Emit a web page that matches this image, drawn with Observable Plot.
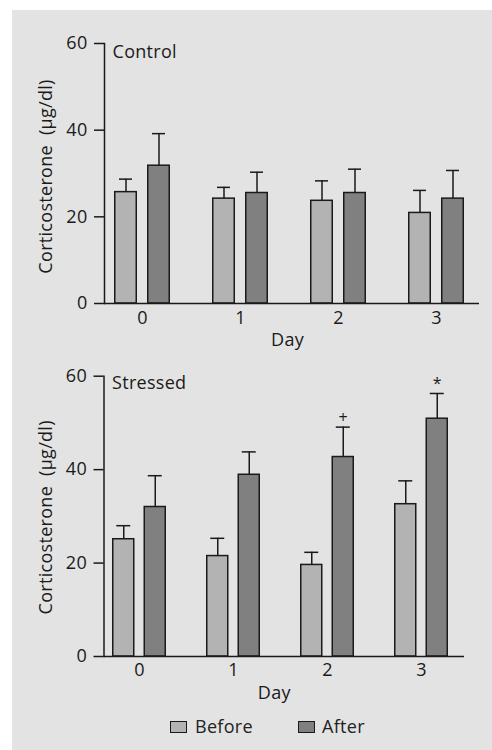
<!DOCTYPE html>
<html>
<head>
<meta charset="utf-8">
<script src="https://cdn.jsdelivr.net/npm/d3@7"></script>
<script src="https://cdn.jsdelivr.net/npm/@observablehq/plot@0.6"></script>
<style>
  body { margin: 0; background: #ffffff; }
  #page { position: relative; width: 492px; height: 750px; font-family: "Open Sans", sans-serif; color: #222; overflow: hidden; }
  #bg { position: absolute; left: 12px; top: 10px; width: 480px; height: 740px; background: #e3e3e3; }
  .panel { position: absolute; left: 0; }
  #top { top: 0px; }
  #bottom { top: 360px; }
  #legend { position: absolute; top: 716px; left: 0; width: 492px; height: 22px; font-size: 18px; letter-spacing: 0.3px; }
  .sw { position: absolute; top: 5px; width: 15px; height: 10px; border: 1.5px solid #1a1a1a; }
  .lt { position: absolute; top: -1px; line-height: 22px; }
</style>
</head>
<body>
<div id="page">
  <div id="bg"></div>
  <div id="top" class="panel"></div>
  <div id="bottom" class="panel"></div>
  <div id="legend">
    <div class="sw" style="left:170px;background:#b3b3b3"></div><div class="lt" style="left:195px">Before</div>
    <div class="sw" style="left:298px;background:#808080"></div><div class="lt" style="left:322px">After</div>
  </div>
</div>
<script>
// ---- data ----
const days = ["0", "1", "2", "3"];
const conditions = ["Before", "After"];

const controlBefore = [25.7, 24.2, 23.7, 20.9];
const controlBeforeSem = [3.0, 2.6, 4.6, 5.2];
const controlAfter = [31.8, 25.5, 25.5, 24.2];
const controlAfterSem = [7.4, 4.8, 5.5, 6.5];

const stressedBefore = [25.1, 21.5, 19.6, 32.6];
const stressedBeforeSem = [2.9, 3.8, 2.7, 5.0];
const stressedAfter = [32.0, 38.9, 42.7, 50.9];
const stressedAfterSem = [6.7, 4.9, 6.4, 5.4];

const stressedMarkers = [
  {day: "2", symbol: "+"},
  {day: "3", symbol: "*"}
];

const yTicks = [0, 20, 40, 60];
const yLabel = "Corticosterone\u00a0 (\u00b5g/dl)";
const xLabel = "Day";

// ---- helpers ----
function rows(means, sems) {
  return days.map((d, i) => ({day: d, mean: means[i], sem: sems[i], top: means[i] + sems[i]}));
}

const ink = "#1a1a1a";

function panel(cfg) {
  const {before, after, name, markers, geo} = cfg;
  const bw = geo.bw, half = bw / 2;
  const offB = -geo.off, offA = geo.off;
  const barHalf = geo.barW / 2, capHalf = geo.capW / 2;
  const bIL = half + offB - barHalf, bIR = half - offB - barHalf;
  const aIL = half + offA - barHalf, aIR = half - offA - barHalf;
  const cbIL = half + offB - capHalf, cbIR = half - offB - capHalf;
  const caIL = half + offA - capHalf, caIR = half - offA - capHalf;
  const afterByDay = new Map(after.map(d => [d.day, d]));
  const marks = [
    Plot.barY(before, {x: "day", y: "mean", fill: "#b3b3b3", stroke: ink, strokeWidth: 1.5, insetLeft: bIL, insetRight: bIR}),
    Plot.barY(after, {x: "day", y: "mean", fill: "#808080", stroke: ink, strokeWidth: 1.5, insetLeft: aIL, insetRight: aIR}),
    Plot.ruleX(before, {x: "day", y1: "mean", y2: "top", dx: offB, stroke: ink, strokeWidth: 1.5}),
    Plot.ruleX(after, {x: "day", y1: "mean", y2: "top", dx: offA, stroke: ink, strokeWidth: 1.5}),
    Plot.tickY(before, {x: "day", y: "top", insetLeft: cbIL, insetRight: cbIR, stroke: ink, strokeWidth: 1.5}),
    Plot.tickY(after, {x: "day", y: "top", insetLeft: caIL, insetRight: caIR, stroke: ink, strokeWidth: 1.5}),
    Plot.ruleY([0], {stroke: ink, strokeWidth: 1.5}),
    Plot.frame({anchor: "left", stroke: ink, strokeWidth: 1.5}),
    Plot.axisY({ticks: yTicks, tickSize: 10, tickPadding: 7, label: null, stroke: ink, strokeWidth: 1.5}),
    Plot.axisX({tickSize: 0, tickPadding: geo.xPad, label: null}),
    Plot.text([xLabel], {frameAnchor: "bottom", lineAnchor: "middle", dy: geo.dayDy, dx: geo.dayDx, fill: ink}),
    Plot.text([yLabel], {frameAnchor: "left", rotate: -90, textAnchor: "middle", lineAnchor: "middle", dx: geo.ylDx, dy: geo.ylDy, fill: ink}),
    Plot.text([name], {frameAnchor: "top-left", textAnchor: "start", lineAnchor: "top", dx: 8, dy: geo.nameDy, fill: ink})
  ];
  if (markers) {
    marks.push(Plot.text(markers, {x: "day", y: d => afterByDay.get(d.day).top, text: "symbol", dx: offA, dy: -4, fill: ink, lineAnchor: "bottom", fontSize: 16}));
  }
  return Plot.plot({
    width: 492,
    height: geo.height,
    marginTop: geo.mt,
    marginBottom: geo.mb,
    marginLeft: geo.ml,
    marginRight: geo.mr,
    style: {background: "transparent", fontFamily: "'Open Sans', sans-serif", fontSize: "18px", letterSpacing: "0.3px", color: ink, overflow: "visible"},
    x: {domain: days, paddingInner: geo.pi, paddingOuter: geo.po, align: geo.align},
    y: {domain: [0, 60]},
    marks
  });
}

// top: y 60 at 43, 0 at 303 ; x from 104 to 479
const topGeo = {height: 355, mt: 43, mb: 52, ml: 104, mr: 13, pi: 0.411, po: 0.109, align: 0.407,
  bw: 58, off: 16.5, barW: 21.5, capW: 13, xPad: 8, dayDy: 37, dayDx: -4.5, ylDx: -58, ylDy: 3, nameDy: 2};
// bottom: y 60 at 15.7, 0 at 296 ; x from 103.5 to 464
const botGeo = {height: 350, mt: 15.7, mb: 54, ml: 103.5, mr: 28, pi: 0.409, po: 0.106, align: 0.336,
  bw: 56, off: 15.75, barW: 21, capW: 14, xPad: 7, dayDy: 37, dayDx: -10, ylDx: -57.5, ylDy: 1, nameDy: 0};

document.getElementById("top").append(panel({
  before: rows(controlBefore, controlBeforeSem),
  after: rows(controlAfter, controlAfterSem),
  name: "Control", geo: topGeo
}));
document.getElementById("bottom").append(panel({
  before: rows(stressedBefore, stressedBeforeSem),
  after: rows(stressedAfter, stressedAfterSem),
  name: "Stressed", markers: stressedMarkers, geo: botGeo
}));
</script>
</body>
</html>
